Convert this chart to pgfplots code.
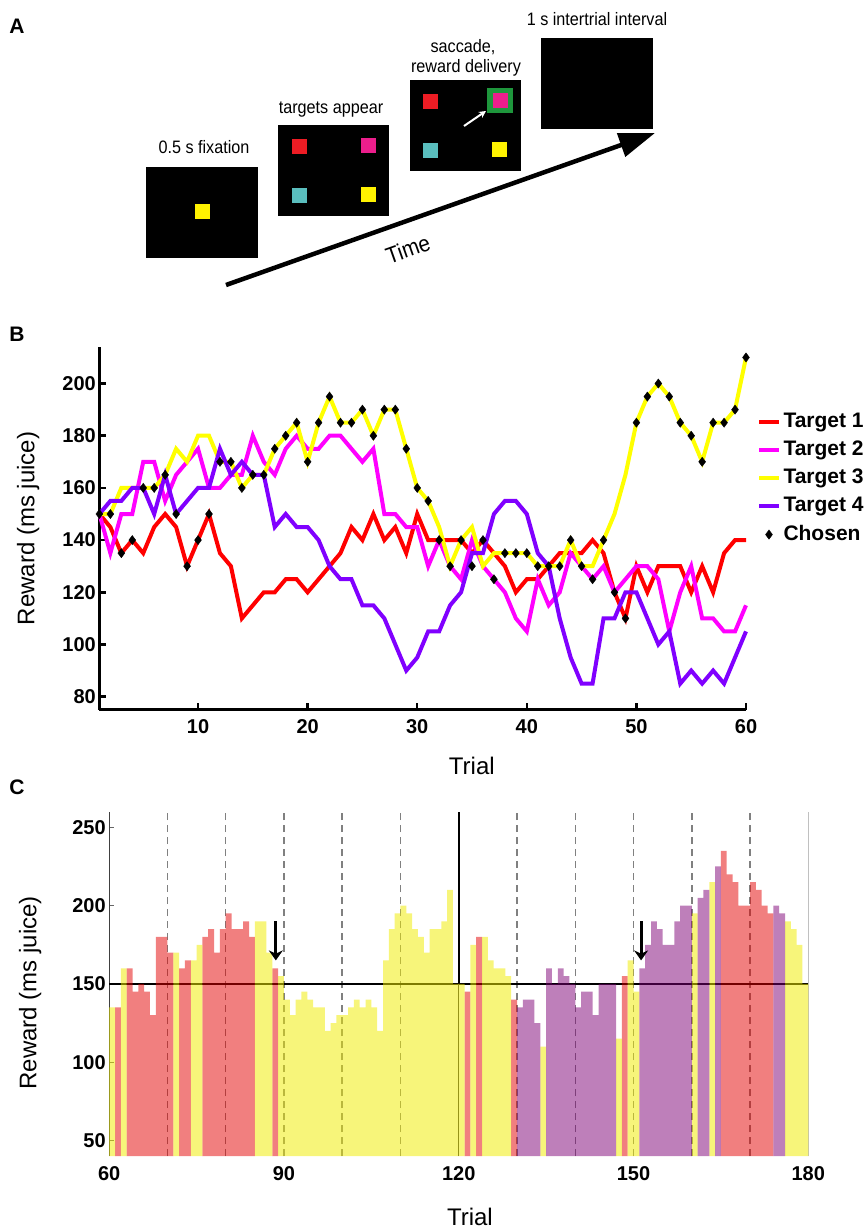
\documentclass[border=0pt]{standalone}
\usepackage{fontspec}
\setmainfont{Liberation Sans}
\newfontfamily\narrowfont[FakeStretch=0.9]{Liberation Sans}
\usepackage{pgfplots}
\usepackage{pgfplotstable}
\pgfplotsset{compat=1.18}
\usetikzlibrary{arrows.meta}

\definecolor{tred}{RGB}{255,0,0}
\definecolor{tmag}{RGB}{255,0,255}
\definecolor{tyel}{RGB}{255,255,0}
\definecolor{tpur}{RGB}{128,0,255}
\definecolor{cred}{RGB}{228,0,0}
\definecolor{cyel}{RGB}{240,235,0}
\definecolor{cpur}{RGB}{125,0,118}
\definecolor{sqred}{RGB}{237,28,36}
\definecolor{sqmag}{RGB}{236,30,140}
\definecolor{sqcyan}{RGB}{90,190,190}
\definecolor{sqyel}{RGB}{255,242,0}
\definecolor{sqgreen}{RGB}{30,150,60}

% Panel B: rewards of the four targets and the chosen one
\pgfplotstableread{
t r m y p c
1 150 150 150 150 150
2 145 135 150 155 150
3 135 150 160 155 135
4 140 150 160 160 140
5 135 170 160 160 160
6 145 170 160 150 160
7 150 155 165 165 165
8 145 165 175 150 150
9 130 170 170 155 130
10 140 175 180 160 140
11 150 160 180 160 150
12 135 160 170 175 170
13 130 165 170 165 170
14 110 165 160 170 160
15 115 180 165 165 165
16 120 170 165 165 165
17 120 165 175 145 175
18 125 175 180 150 180
19 125 180 185 145 185
20 120 175 170 145 170
21 125 175 185 140 185
22 130 180 195 130 195
23 135 180 185 125 185
24 145 175 185 125 185
25 140 170 190 115 190
26 150 175 180 115 180
27 140 150 190 110 190
28 145 150 190 100 190
29 135 145 175 90 175
30 150 145 160 95 160
31 140 130 155 105 155
32 140 140 145 105 140
33 140 130 130 115 130
34 140 125 140 120 140
35 135 140 145 135 130
36 140 130 130 135 140
37 135 125 135 150 125
38 130 120 135 155 135
39 120 110 135 155 135
40 125 105 135 150 135
41 125 125 130 135 130
42 130 115 130 130 130
43 135 120 130 110 130
44 135 135 140 95 140
45 135 130 130 85 130
46 140 125 130 85 125
47 135 130 140 110 140
48 120 120 150 110 120
49 110 125 165 120 110
50 130 130 185 120 185
51 120 130 195 110 195
52 130 125 200 100 200
53 130 105 195 105 195
54 130 120 185 85 185
55 120 130 180 90 180
56 130 110 170 85 170
57 120 110 185 90 185
58 135 105 185 85 185
59 140 105 190 95 190
60 140 115 210 105 210
}\dataB

% Panel C: reward of the chosen target, split by chosen target
\pgfplotstableread{
t v
62 135
64 160
65 145
66 150
67 145
68 130
69 180
70 180
71 170
73 160
74 165
77 180
78 185
79 170
80 185
81 195
82 185
83 185
84 190
85 180
89 160
122 145
124 180
130 140
149 155
166 235
167 220
168 215
169 200
170 200
171 215
172 210
173 200
174 195
}\dataCred

\pgfplotstableread{
t v
61 135
63 160
72 170
75 165
76 175
86 190
87 190
88 170
90 155
91 140
92 130
93 140
94 145
95 140
96 135
97 135
98 120
99 125
100 130
101 130
102 135
103 140
104 135
105 140
106 135
107 120
108 165
109 185
110 195
111 200
112 195
113 185
114 180
115 170
116 185
117 185
118 190
119 210
120 150
121 150
123 175
125 180
126 165
127 160
128 160
129 155
135 110
148 115
150 165
151 145
161 195
164 215
177 190
178 185
179 175
180 150
}\dataCyel

\pgfplotstableread{
t v
131 135
132 140
133 140
134 125
136 160
137 150
138 160
139 155
140 150
141 135
142 145
143 145
144 130
145 150
146 150
147 150
152 160
153 175
154 190
155 185
156 175
157 175
158 190
159 200
160 200
162 205
163 210
165 225
175 200
176 195
}\dataCpur

\newcommand{\tickfont}{\bfseries\fontsize{20}{24}\selectfont}
\newcommand{\labfont}{\fontsize{24}{28}\selectfont}
\newcommand{\afont}{\narrowfont\fontsize{18}{21}\selectfont}

\begin{document}
\begin{tikzpicture}
\useasboundingbox (0pt,0pt) rectangle (865pt,-1229pt);

% ---------- canvas: panel A and panel letters ----------
\begin{axis}[at={(0pt,-1229pt)}, anchor=south west, scale only axis,
  width=865pt, height=1229pt, xmin=0, xmax=865, ymin=-1229, ymax=0,
  hide axis, clip=false]
  \node[font=\bfseries\fontsize{21}{24}\selectfont] at (axis cs:17,-26) {A};
  \node[font=\bfseries\fontsize{21}{24}\selectfont] at (axis cs:17,-334) {B};
  \node[font=\bfseries\fontsize{21}{24}\selectfont] at (axis cs:17,-787) {C};
  % time arrow
  \draw[line width=4.5pt, -{Triangle[length=36pt,width=24pt]}] (axis cs:226,-285) -- (axis cs:655,-133);
  \node[font=\narrowfont\fontsize{23}{26}\selectfont, rotate=19.5] at (axis cs:408,-249) {Time};
  % screen 1
  \fill[black] (axis cs:146,-167) rectangle (axis cs:258,-258);
  \fill[sqyel] (axis cs:195,-204) rectangle (axis cs:210,-219);
  \node[font=\afont, anchor=base] at (axis cs:204,-153.5) {0.5 s fixation};
  % screen 2
  \fill[black] (axis cs:278,-125) rectangle (axis cs:389,-216);
  \fill[sqred] (axis cs:292,-139) rectangle (axis cs:307,-154);
  \fill[sqmag] (axis cs:361,-138) rectangle (axis cs:376,-153);
  \fill[sqcyan] (axis cs:292,-188) rectangle (axis cs:307,-203);
  \fill[sqyel] (axis cs:361,-187) rectangle (axis cs:376,-202);
  \node[font=\afont, anchor=base] at (axis cs:331,-113.5) {targets appear};
  % screen 3
  \fill[black] (axis cs:410,-80) rectangle (axis cs:521,-171);
  \fill[sqred] (axis cs:423,-94) rectangle (axis cs:438,-109);
  \fill[sqgreen] (axis cs:487,-88) rectangle (axis cs:513,-113);
  \fill[sqmag] (axis cs:493,-93) rectangle (axis cs:508,-108);
  \fill[sqcyan] (axis cs:423,-143) rectangle (axis cs:438,-158);
  \fill[sqyel] (axis cs:492,-142) rectangle (axis cs:507,-157);
  \draw[white, line width=2pt, -{Stealth[length=7pt,width=7pt]}] (axis cs:464,-126) -- (axis cs:486,-111);
  \node[font=\afont, anchor=base] at (axis cs:463,-52.5) {saccade,};
  \node[font=\afont, anchor=base] at (axis cs:466,-72.5) {reward delivery};
  % screen 4
  \fill[black] (axis cs:541,-38) rectangle (axis cs:653,-129);
  \node[font=\afont, anchor=base] at (axis cs:597,-26) {1 s intertrial interval};
\end{axis}

% ---------- panel B ----------
\begin{axis}[at={(99.4pt,-709.7pt)}, anchor=south west, scale only axis,
  width=646.6pt, height=362.7pt,
  xmin=1, xmax=60, ymin=75, ymax=214, clip=false,
  axis x line*=bottom, axis y line*=left,
  axis line style={line width=3pt, -},
  xtick={10,20,...,60}, ytick={80,100,...,200},
  tick align=inside, major tick length=7pt,
  tick style={line width=2.5pt, black},
  tick label style={font=\tickfont},
  xticklabel style={yshift=-6pt},
  /pgf/number format/assume math mode=true,
  xlabel={Trial}, ylabel={Reward (ms juice)},
  label style={font=\labfont},
  xlabel style={at={(axis description cs:0.576,-0.155)}, anchor=center},
  ylabel style={at={(axis description cs:-0.110,0.5)}, anchor=center},
  legend style={at={(1.0167,0.828)}, anchor=north west, draw=none, fill=none,
    font=\bfseries\fontsize{21}{24}\selectfont, row sep=4.25pt, inner sep=0pt,
    nodes={inner sep=2.5pt, text height=15pt, text depth=4pt}},
  legend cell align=left,
  legend image code/.code={\draw[mark repeat=2,mark phase=2,#1] plot coordinates {(0pt,0pt) (10pt,0pt) (20pt,0pt)};},
]
\addplot[tred, line width=4pt] table[x=t, y=r] {\dataB};
\addplot[tmag, line width=4pt] table[x=t, y=m] {\dataB};
\addplot[tyel, line width=4pt] table[x=t, y=y] {\dataB};
\addplot[tpur, line width=4pt] table[x=t, y=p] {\dataB};
\addplot[only marks, mark=diamond*, mark size=4.6pt, black] table[x=t, y=c] {\dataB};
\legend{Target 1, Target 2, Target 3, Target 4, Chosen}
\end{axis}

% ---------- panel C ----------
\begin{axis}[at={(109.2pt,-1156.2pt)}, anchor=south west, scale only axis,
  width=699.1pt, height=344.6pt,
  xmin=60, xmax=180, ymin=40, ymax=260,
  axis x line*=bottom, axis y line*=left,
  x axis line style={draw=none},
  y axis line style={line width=0.8pt, black!75, -},
  xtick={60,90,...,180}, ytick={50,100,...,250},
  xtick style={draw=none},
  ytick style={line width=0.8pt, black!60},
  tick align=inside, major tick length=5pt,
  tick label style={font=\tickfont},
  xticklabel style={yshift=-7pt},
  /pgf/number format/assume math mode=true,
  xlabel={Trial}, ylabel={Reward (ms juice)},
  label style={font=\labfont},
  xlabel style={at={(axis description cs:0.516,-0.176)}, anchor=center},
  ylabel style={at={(axis description cs:-0.113,0.474)}, anchor=center},
]
\addplot[forget plot, black!50, line width=1.5pt, dash pattern=on 7pt off 5pt] coordinates {(70,40) (70,260)};
\addplot[forget plot, black!50, line width=1.5pt, dash pattern=on 7pt off 5pt] coordinates {(80,40) (80,260)};
\addplot[forget plot, black!50, line width=1.5pt, dash pattern=on 7pt off 5pt] coordinates {(90,40) (90,260)};
\addplot[forget plot, black!50, line width=1.5pt, dash pattern=on 7pt off 5pt] coordinates {(100,40) (100,260)};
\addplot[forget plot, black!50, line width=1.5pt, dash pattern=on 7pt off 5pt] coordinates {(110,40) (110,260)};
\addplot[forget plot, black!50, line width=1.5pt, dash pattern=on 7pt off 5pt] coordinates {(130,40) (130,260)};
\addplot[forget plot, black!50, line width=1.5pt, dash pattern=on 7pt off 5pt] coordinates {(140,40) (140,260)};
\addplot[forget plot, black!50, line width=1.5pt, dash pattern=on 7pt off 5pt] coordinates {(150,40) (150,260)};
\addplot[forget plot, black!50, line width=1.5pt, dash pattern=on 7pt off 5pt] coordinates {(160,40) (160,260)};
\addplot[forget plot, black!50, line width=1.5pt, dash pattern=on 7pt off 5pt] coordinates {(170,40) (170,260)};
\addplot[forget plot, black, line width=2pt] coordinates {(60,150) (180,150)};
\addplot[forget plot, black!80, line width=1.2pt] coordinates {(120,40) (120,150)};
\addplot[forget plot, black, line width=2.5pt] coordinates {(120,150) (120,260)};
\addplot[forget plot, black!70, line width=0.8pt] coordinates {(180,40) (180,260)};
\addplot[ybar, bar width=1, bar shift=0pt, draw=none, fill=cred, fill opacity=0.5]
  table[x expr=\thisrow{t}-0.5, y=v] {\dataCred};
\addplot[ybar, bar width=1, bar shift=0pt, draw=none, fill=cyel, fill opacity=0.52]
  table[x expr=\thisrow{t}-0.5, y=v] {\dataCyel};
\addplot[ybar, bar width=1, bar shift=0pt, draw=none, fill=cpur, fill opacity=0.5]
  table[x expr=\thisrow{t}-0.5, y=v] {\dataCpur};
\draw[line width=3.2pt, -{Stealth[length=10pt,width=14pt]}] (axis cs:88.6,190) -- (axis cs:88.6,165);
\draw[line width=3.2pt, -{Stealth[length=10pt,width=14pt]}] (axis cs:151.3,190) -- (axis cs:151.3,165);
\end{axis}
\end{tikzpicture}
\end{document}
